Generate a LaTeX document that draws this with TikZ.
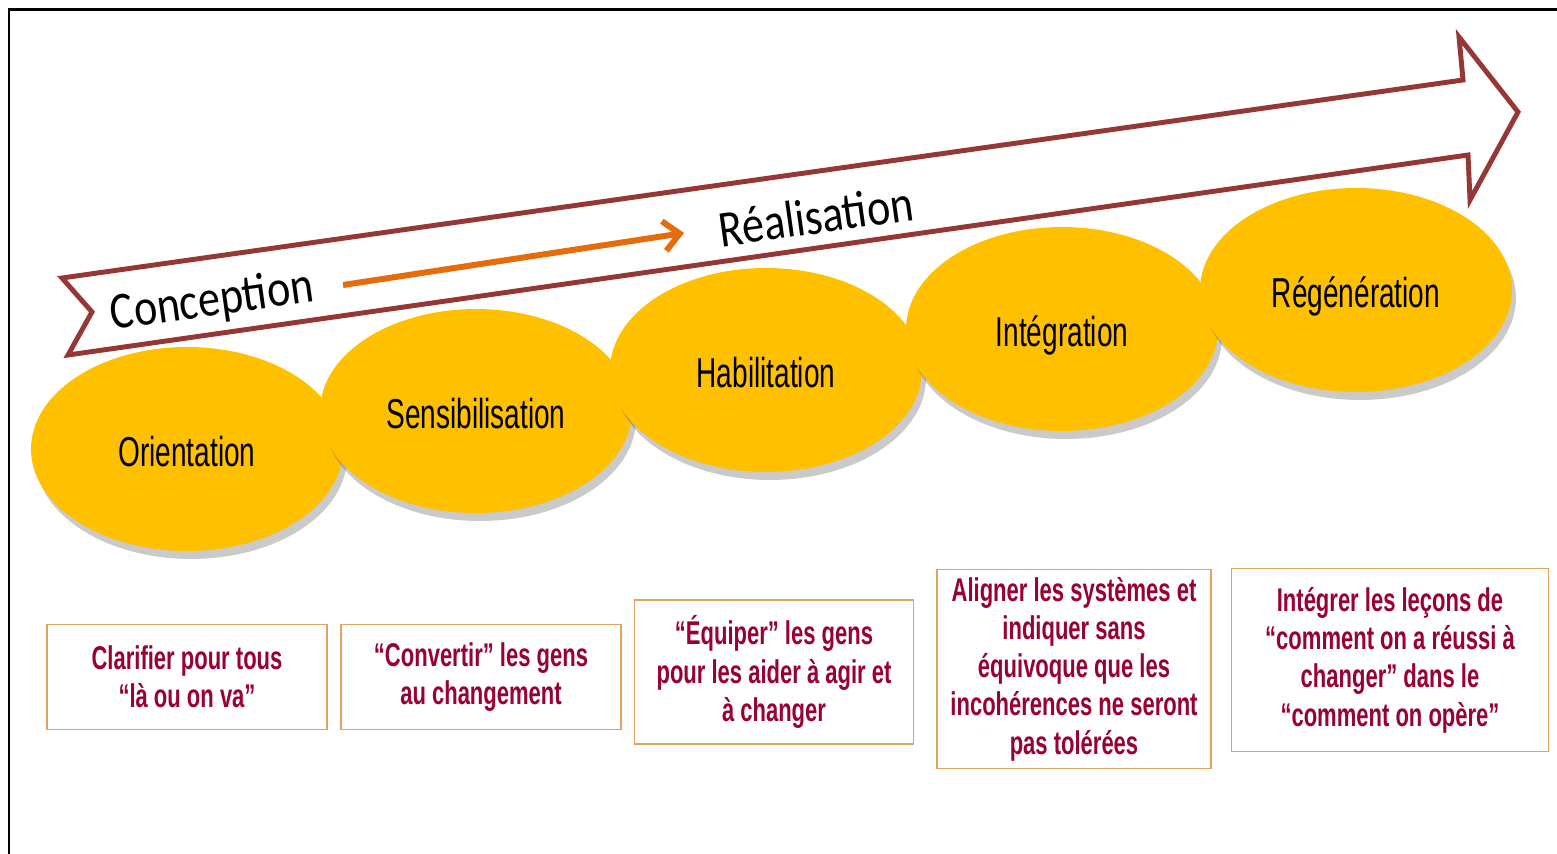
\documentclass[tikz,border=0pt]{standalone}
\usepackage{fontspec}
\usepackage{xcolor}
\usetikzlibrary{shapes.geometric,shadows,arrows.meta}

\definecolor{phaseyellow}{RGB}{255,192,0}
\definecolor{bandred}{RGB}{149,55,53}
\definecolor{flecheorange}{RGB}{228,108,10}
\definecolor{textemauve}{RGB}{153,0,51}
\definecolor{cadreorange}{RGB}{226,163,96}

\newfontfamily\phasefont[FakeStretch=0.67]{Liberation Sans}
\newfontfamily\bandfont[FakeStretch=0.85]{Carlito}

\begin{document}
\begin{tikzpicture}[
    x=0.02cm, y=-0.02cm,
    phase/.style={ellipse, fill=phaseyellow, minimum width=6.24cm,
      minimum height=4.08cm, inner sep=0pt,
      text height=22pt, text depth=1.6pt,
      font=\phasefont\fontsize{23.8}{27}\selectfont,
      drop shadow={shadow xshift=0.08cm, shadow yshift=-0.16cm,
        opacity=0.35, fill=black!60}},
    action/.style={draw=cadreorange, line width=0.85pt, fill=white,
      align=center, inner sep=0pt, text=textemauve,
      font=\phasefont\bfseries\fontsize{18.7}{21.8}\selectfont},
    stage/.style={font=\bandfont\fontsize{29.5}{32}\selectfont,
      rotate=8, inner sep=0pt},
    thick]
    \useasboundingbox (0,0) rectangle (1557,854);
    % frame
    \draw[line width=1.7pt] (9,854) -- (9,10) -- (1557,10);

    % BAND
    \draw[bandred, line width=2.8pt, fill=white, line join=miter]
      (62,278) -- (1463,80) -- (1459,37) -- (1518,112) -- (1470,200)
      -- (1468,155) -- (68,355) -- (92,312) -- cycle;
    \node[stage] (conception) at (212,302) {Conception};
    \node[stage] (realisation) at (816,216) {Réalisation};
    % orange arrow between the two stages
    \coordinate (flecheA) at (343,285);
    \coordinate (flecheB) at (684,233);
    \draw[flecheorange, line width=3.4pt,
      -{Straight Barb[length=9pt,width=17pt]}] (flecheA) -- (flecheB);

    % PHASES
    \node[phase] (orientation) at (187,449) {Orientation};
    \node[phase] (sensib) at (476,411) {Sensibilisation};
    \node[phase] (habil) at (766,370) {Habilitation};
    \node[phase] (integ) at (1062,329) {Intégration};
    \node[phase] (regen) at (1356,290) {Régénération};

    % ACTIONS
    \node[action, minimum width=5.6cm, minimum height=2.1cm] (clarifier)
      at (187,677) {Clarifier pour tous\\“là ou on va”};
    \node[action, minimum width=5.6cm, minimum height=2.1cm] (convertir)
      at (481,677) {“Convertir” les gens\\au changement};
    \node[action, minimum width=5.58cm, minimum height=2.88cm] (equiper)
      at (774,672) {“Équiper” les gens\\pour les aider à agir et\\à changer};
    \node[action, minimum width=5.48cm, minimum height=3.98cm] (aligner)
      at (1074,669) {Aligner les systèmes et\\indiquer sans\\équivoque que les\\incohérences ne seront\\pas tolérées};
    \node[action, minimum width=6.34cm, minimum height=3.66cm] (integrer)
      at (1390,660) {Intégrer les leçons de\\“comment on a réussi à\\changer” dans le\\“comment on opère”};
\end{tikzpicture}
\end{document}
